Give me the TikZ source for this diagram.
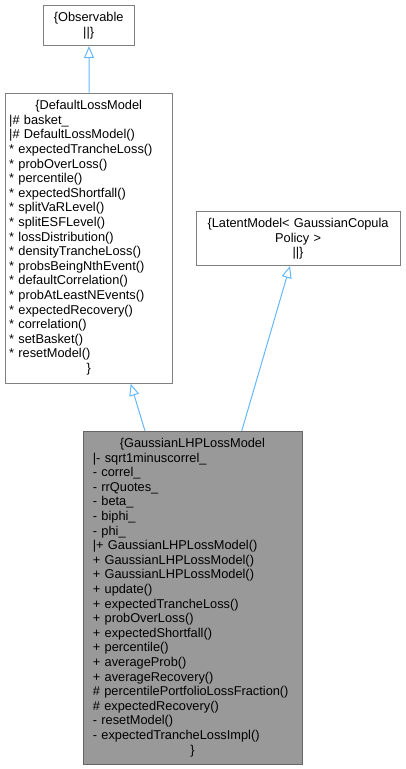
\documentclass[tikz,border=0pt]{standalone}
\usepackage{fontspec}
\setmainfont{Liberation Sans}
\usepackage{xcolor}
\usepackage{tikz}
\usetikzlibrary{arrows.meta, positioning, calc}
\definecolor{edgeblue}{RGB}{99, 184, 255}
\definecolor{boxgray}{RGB}{128, 128, 128}
\definecolor{focusborder}{RGB}{102, 102, 102}
\definecolor{focusfill}{RGB}{153, 153, 153}
\newcommand{\ctrline}[1]{\makebox[\hsize]{#1}}

\begin{document}
\begin{tikzpicture}[
    x=1pt, y=-1pt,
    every node/.style={font=\fontsize{12.8}{14.6}\selectfont},
    classbox/.style={draw=boxgray, fill=white, line width=1pt, anchor=north west, inner sep=0pt},
    focusbox/.style={classbox, draw=focusborder, fill=focusfill},
    membertext/.style={anchor=north west, align=left, inner sep=0pt},
    inherit/.style={-{Triangle[open, length=12pt, width=10pt]}, line width=1pt, color=edgeblue}
]
\useasboundingbox (0,0) rectangle (405,769);

% Observable Node
\node[classbox, minimum width=91.6pt, minimum height=40pt] (obsbox) at (42.7,5) {};
\node[membertext, text width=91.6pt] (obs) at ($(obsbox.north west)+(0,7.5)$) {
    \ctrline{\{Observable}\\
    \ctrline{||\}}
};

% DefaultLossModel Node
\node[classbox, minimum width=167.3pt, minimum height=290pt] (defaultbox) at (5,92.7) {};
\node[membertext, text width=159pt] (default) at ($(defaultbox.north west)+(4,7.5)$) {
    \ctrline{\{DefaultLossModel}\\
    |\# basket\_\\
    |\# DefaultLossModel()\\
    {*} expectedTrancheLoss()\\
    {*} probOverLoss()\\
    {*} percentile()\\
    {*} expectedShortfall()\\
    {*} splitVaRLevel()\\
    {*} splitESFLevel()\\
    {*} lossDistribution()\\
    {*} densityTrancheLoss()\\
    {*} probsBeingNthEvent()\\
    {*} defaultCorrelation()\\
    {*} probAtLeastNEvents()\\
    {*} expectedRecovery()\\
    {*} correlation()\\
    {*} setBasket()\\
    {*} resetModel()\\
    \ctrline{\}}
};

% LatentModel Node
\node[classbox, minimum width=204.3pt, minimum height=54.3pt] (latentbox) at (195.7,210.7) {};
\node[membertext, text width=204.3pt] (latent) at ($(latentbox.north west)+(0,7.5)$) {
    \ctrline{\{LatentModel< GaussianCopula}\\
    \ctrline{Policy >}\\
    \ctrline{||\}}
};

% GaussianLHPLossModel Node
\node[focusbox, minimum width=219pt, minimum height=333pt] (gaussbox) at (82.7,431) {};
\node[membertext, text width=199pt] (gauss) at ($(gaussbox.north west)+(10,7)$) {
    \ctrline{\{GaussianLHPLossModel}\\
    |- sqrt1minuscorrel\_\\
    - correl\_\\
    - rrQuotes\_\\
    - beta\_\\
    - biphi\_\\
    - phi\_\\
    |+ GaussianLHPLossModel()\\
    + GaussianLHPLossModel()\\
    + GaussianLHPLossModel()\\
    + update()\\
    + expectedTrancheLoss()\\
    + probOverLoss()\\
    + expectedShortfall()\\
    + percentile()\\
    + averageProb()\\
    + averageRecovery()\\
    \#~percentilePortfolioLossFraction()\\
    \#~expectedRecovery()\\
    - resetModel()\\
    - expectedTrancheLossImpl()\\
    \ctrline{\}}
};

% Inheritance arrows
\draw[inherit] (defaultbox.north) -- (obsbox.south);
\draw[inherit] ($(gaussbox.north west)+(62.3,0)$) -- ($(defaultbox.south west)+(125.7,0)$);
\draw[inherit] ($(gaussbox.north west)+(159,0)$) -- ($(latentbox.south west)+(94.3,0)$);

\end{tikzpicture}
\end{document}
